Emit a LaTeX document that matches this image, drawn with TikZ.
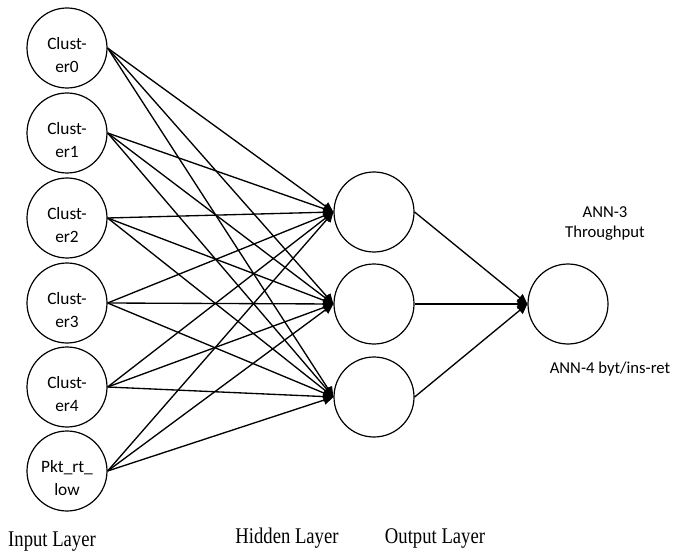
\documentclass[tikz,border=0pt]{standalone}
\usepackage{fontspec}
\setmainfont{Liberation Serif}
\newfontfamily\calfont{Carlito}
\usetikzlibrary{arrows.meta}

\begin{document}
\begin{tikzpicture}[x=0.75pt,y=-0.75pt,
  >={Triangle[length=7.5pt,width=7pt]},
  neuron/.style={circle,draw,line width=0.9pt,minimum size=60pt,inner sep=0pt},
  celltext/.style={align=center,yshift=-5.5pt,font=\calfont\fontsize{13}{17}\selectfont},
  wire/.style={line width=1pt,->},
  layername/.style={font=\fontsize{14}{16}\selectfont},
  annlbl/.style={align=center,font=\calfont\fontsize{12.5}{15}\selectfont}]
\useasboundingbox (0,0) rectangle (682,556);
% input layer
\node[neuron,label={[celltext]center:{Clust-\\er0}}] (i0) at (67,48) {};
\node[neuron,label={[celltext]center:{Clust-\\er1}}] (i1) at (67,133) {};
\node[neuron,label={[celltext]center:{Clust-\\er2}}] (i2) at (67,218) {};
\node[neuron,label={[celltext]center:{Clust-\\er3}}] (i3) at (67,303) {};
\node[neuron,label={[celltext]center:{Clust-\\er4}}] (i4) at (67,387) {};
\node[neuron,label={[celltext]center:{Pkt\_rt\_\\low}}] (i5) at (67,471) {};
% hidden and output
\node[neuron] (h1) at (374,212) {};
\node[neuron] (h2) at (374,304) {};
\node[neuron] (h3) at (374,397) {};
\node[neuron] (o) at (568,304) {};
\foreach \i in {0,...,5}
  \foreach \h in {1,2,3}
    \draw[wire] (i\i.east) -- (h\h.west);
\foreach \h in {1,2,3}
  \draw[wire] (h\h.east) -- (o.west);
% labels
\node[annlbl] (ann3) at (605,224) {ANN-3\\Throughput};
\node[annlbl] (ann4) at (610,369) {ANN-4 byt/ins-ret};
\node[layername] (inl) at (52,542) {\scalebox{1}[1.2]{Input Layer}};
\node[layername] (hidl) at (287,538) {\scalebox{1}[1.2]{Hidden Layer}};
\node[layername] (outl) at (435,538) {\scalebox{1}[1.2]{Output Layer}};
\end{tikzpicture}
\end{document}
